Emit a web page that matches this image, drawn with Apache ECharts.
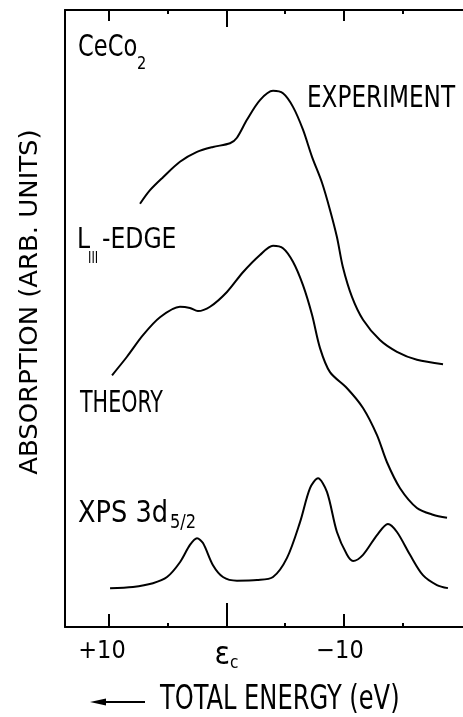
<!DOCTYPE html>
<html><head><meta charset="utf-8">
<script src="https://cdn.jsdelivr.net/npm/echarts@6/dist/echarts.min.js"></script>
<style>html,body{margin:0;padding:0;background:#fff}#c{width:463px;height:717px}</style>
</head><body><div id="c"></div>
<script>
// Energy axis (eV, decreasing to the right) and absorption (arb. units, 0-100)
const experimentX = [7.36, 6.51, 5.40, 3.96, 2.51, 1.15, -0.30, -0.89, -1.74, -2.85, -3.96, -4.81, -5.66, -6.51, -7.28, -8.13, -8.81, -9.40, -9.91, -10.68, -11.62, -13.06, -14.51, -16.21, -18.43];
const experimentY = [68.6, 70.8, 72.9, 75.4, 77.0, 77.8, 78.4, 79.3, 82.2, 85.4, 86.9, 86.5, 84.3, 80.6, 76.2, 72.0, 67.6, 63.2, 58.3, 53.5, 49.8, 46.5, 44.6, 43.3, 42.6];
const theoryX = [9.74, 8.47, 7.11, 5.66, 3.96, 3.11, 2.43, 1.40, -0.04, -1.40, -2.85, -3.96, -4.81, -5.66, -6.51, -7.28, -7.96, -8.81, -10.26, -11.62, -12.81, -13.66, -14.77, -16.21, -17.57, -18.77];
const theoryY = [40.8, 43.8, 47.3, 50.2, 51.9, 51.7, 51.2, 51.9, 54.3, 57.5, 60.3, 61.8, 61.4, 59.2, 55.4, 50.6, 45.2, 41.3, 38.7, 35.5, 31.1, 26.7, 22.5, 19.3, 18.2, 17.7];
const xpsX = [9.91, 7.96, 6.26, 5.06, 3.96, 3.11, 2.51, 2.00, 1.15, 0.30, -0.89, -2.60, -3.96, -5.15, -6.26, -7.11, -7.79, -8.55, -9.40, -10.26, -10.77, -11.62, -12.81, -13.74, -14.51, -15.62, -16.72, -17.91, -18.85];
const xpsY = [6.3, 6.5, 7.1, 8.1, 10.5, 13.3, 14.4, 13.6, 10.0, 8.1, 7.5, 7.6, 8.1, 11.2, 17.0, 22.5, 24.1, 21.9, 15.4, 11.7, 10.7, 11.7, 14.9, 16.7, 15.4, 11.7, 8.4, 6.8, 6.3];

const majorTicks = [10, -10];
const centerTick = [0];
const minorTicks = [5, -5, -15];
const labelValues = [10, 0, -10];
const labelTexts = ['+10', 'ε', '−10'];

const FONT = '"DejaVu Sans Condensed", "DejaVu Sans", sans-serif';
const XMIN = -20.13, XMAX = 13.745;

const chart = echarts.init(document.getElementById('c'));

function xAx(position, ticks, len, extra) {
  return Object.assign({
    type: 'value', gridIndex: 0, position: position, min: XMIN, max: XMAX, inverse: true,
    splitLine: { show: false },
    axisLine: { show: false, onZero: false, lineStyle: { color: '#000', width: 2 } },
    axisTick: { show: true, inside: true, length: len, customValues: ticks, lineStyle: { color: '#000', width: 2 } },
    axisLabel: { show: false }
  }, extra || {});
}

const zip = (xs, ys) => xs.map((x, i) => [x, ys[i]]);

function lineSeries(name, xs, ys) {
  return {
    name: name, type: 'line', xAxisIndex: 0, yAxisIndex: 0, data: zip(xs, ys),
    showSymbol: false, smooth: 0.3, lineStyle: { color: '#000', width: 2 }, silent: true
  };
}

function txt(text, x, y, size, sx, extra) {
  return Object.assign({
    type: 'text', x: x, y: y, scaleX: sx,
    style: { text: text, fontSize: size, fontFamily: FONT, fill: '#000', align: 'left', verticalAlign: 'middle' }
  }, extra || {});
}

const option = {
  animation: false,
  backgroundColor: '#fff',
  grid: { left: 65, right: 0, top: 10, bottom: 90, containLabel: false },
  xAxis: [
    xAx('bottom', majorTicks, 13, {
      axisLine: { show: true, onZero: false, lineStyle: { color: '#000', width: 2 } },
      axisLabel: {
        show: true, customValues: labelValues, margin: 12, color: '#000', fontFamily: FONT, fontSize: 25,
        formatter: function (v) {
          const i = labelValues.indexOf(Math.round(v));
          if (i === 0) return '{p|' + labelTexts[0] + '}';
          if (i === 1) return '{e|' + labelTexts[1] + '}{c|c}';
          if (i === 2) return '{q|' + labelTexts[2] + '}';
          return '';
        },
        rich: {
          p: { fontSize: 25, fontFamily: FONT, color: '#000', padding: [0, 14, 0, 0] },
          q: { fontSize: 25, fontFamily: FONT, color: '#000', padding: [0, 8, 0, 0] },
          e: { fontSize: 32, fontFamily: FONT, color: '#000', padding: [0, 0, 0, 0] },
          c: { fontSize: 17, fontFamily: FONT, color: '#000', padding: [16, 0, 0, 0] }
        }
      }
    }),
    xAx('bottom', centerTick, 24),
    xAx('bottom', minorTicks, 4),
    xAx('top', majorTicks, 11, { axisLine: { show: true, onZero: false, lineStyle: { color: '#000', width: 2 } } }),
    xAx('top', centerTick, 17),
    xAx('top', minorTicks, 4)
  ],
  yAxis: {
    type: 'value', min: 0, max: 100,
    splitLine: { show: false },
    axisLine: { show: true, onZero: false, lineStyle: { color: '#000', width: 2 } },
    axisTick: { show: false }, axisLabel: { show: false }
  },
  series: [
    lineSeries('Experiment', experimentX, experimentY),
    lineSeries('Theory', theoryX, theoryY),
    lineSeries('XPS 3d5/2', xpsX, xpsY)
  ],
  graphic: [
    txt('ABSORPTION (ARB. UNITS)', 31, 302, 24, 1.2, { rotation: Math.PI / 2, style: { text: 'ABSORPTION (ARB. UNITS)', fontSize: 24, fontFamily: FONT, fill: '#000', align: 'center', verticalAlign: 'middle' } }),
    txt('CeCo', 78, 48, 31, 0.81),
    txt('2', 137, 64, 18, 0.9),
    txt('EXPERIMENT', 307, 99, 31, 0.83),
    txt('L', 77, 240, 29, 0.9),
    txt('III', 88, 259, 15, 0.85),
    txt('-EDGE', 102, 240, 29, 0.9),
    txt('THEORY', 80, 404, 31, 0.74),
    txt('XPS 3d', 78, 514, 31, 0.92),
    txt('5/2', 170, 523, 19, 0.95),
    txt('TOTAL ENERGY (eV)', 160, 700, 34, 0.79),
    { type: 'line', shape: { x1: 102, y1: 702, x2: 145, y2: 702 }, style: { stroke: '#000', lineWidth: 2 } },
    { type: 'polygon', shape: { points: [[90, 702], [106, 698.5], [106, 705.5]] }, style: { fill: '#000' } }
  ]
};
chart.setOption(option);
</script>
</body></html>
